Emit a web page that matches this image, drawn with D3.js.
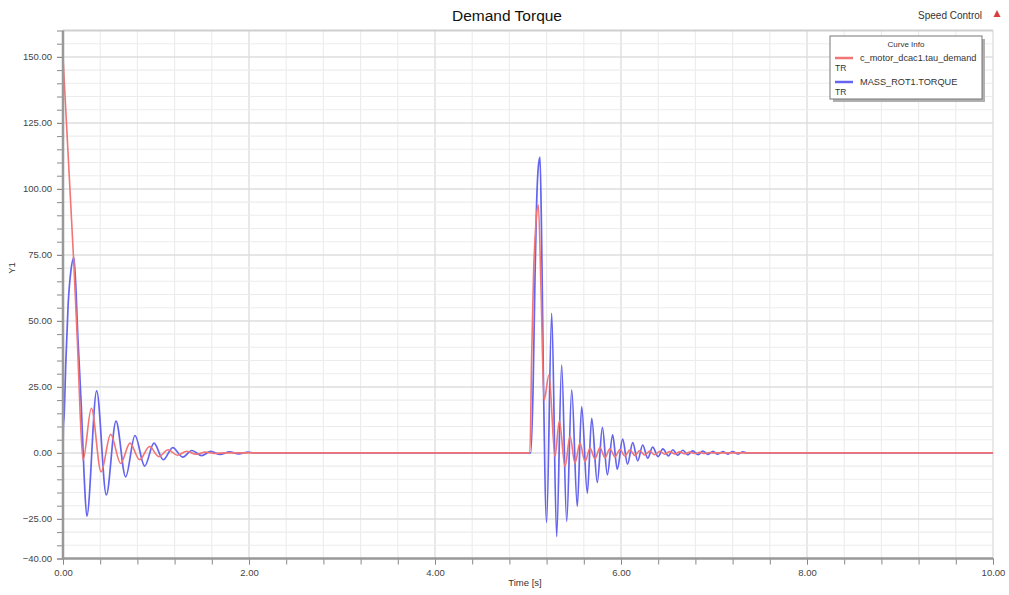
<!DOCTYPE html>
<html><head><meta charset="utf-8">
<script src="https://cdn.jsdelivr.net/npm/d3@7"></script>
<style>
html,body{margin:0;padding:0;background:#fff;}
svg{display:block;font-family:"Liberation Sans",Arial,sans-serif;}
</style></head>
<body><svg id="c" width="1009" height="595"></svg>
<script>
// ---- data ----
const timeTicks = [0, 2, 4, 6, 8, 10];
const valueTicks = [150, 125, 100, 75, 50, 25, 0, -25, -40];
const seriesNames = ["c_motor_dcac1.tau_demand", "MASS_ROT1.TORQUE"];

const redTime = [0, 0.055, 0.11, 0.155, 0.182, 0.215, 0.305, 0.41, 0.512, 0.62, 0.72, 0.824, 0.93, 1.03, 1.13, 1.23, 1.33, 1.43, 1.53, 1.63, 1.75,
  5.02, 5.04, 5.06, 5.085, 5.111, 5.14, 5.172, 5.226, 5.29, 5.337, 5.398, 5.452, 5.505, 5.559, 5.613, 5.667, 5.72, 5.774, 5.828, 5.88, 5.935, 5.99,
  6.04, 6.095, 6.15, 6.2, 6.255, 6.31, 6.36, 6.42, 6.47, 6.52, 6.58, 6.63, 6.68, 6.74, 6.79, 6.85, 6.9, 6.95, 7.0, 10];
const redVal = [150, 113, 76, 42, 17, -2.7, 16.9, -7.2, 7.0, -4.0, 3.7, -2.6, 2.4, -1.4, 1.2, -0.9, 0.6, -0.5, 0.3, -0.2, 0,
  0, 38, 68, 87, 94, 62, 20, 29.5, -1.4, 12.2, -5.2, 6.4, -3.9, 3.7, -3.3, 1.8, -2.2, 2.0, -1.8, 1.6, -1.5, 1.3,
  -1.2, 1.1, -1.0, 0.9, -0.8, 0.7, -0.7, 0.6, -0.5, 0.5, -0.4, 0.4, -0.3, 0.3, -0.25, 0.2, -0.2, 0.15, 0, 0];

const blueTime = [0, 0.004, 0.012, 0.03, 0.055, 0.085, 0.118, 0.161, 0.197, 0.226, 0.256, 0.362, 0.466, 0.57, 0.674, 0.774, 0.878, 0.978, 1.079, 1.18, 1.287, 1.385, 1.49, 1.59, 1.69, 1.79, 1.89, 1.99, 2.05,
  5.03, 5.055, 5.075, 5.09, 5.11, 5.129, 5.145, 5.165, 5.2, 5.255, 5.308, 5.362, 5.416, 5.47, 5.53, 5.577, 5.638, 5.685, 5.745, 5.8, 5.853, 5.91, 5.96, 6.018, 6.07, 6.126, 6.18, 6.233, 6.287, 6.34, 6.4, 6.45,
  6.51, 6.557, 6.61, 6.665, 6.72, 6.77, 6.83, 6.88, 6.935, 6.99, 7.04, 7.095, 7.15, 7.2, 7.26, 7.31, 7.35, 10];
const blueVal = [0, 10, 14, 34, 56, 69, 74, 43, 17.5, -7.7, -24, 23.5, -15.9, 12, -9.1, 6.6, -5.0, 3.7, -2.6, 2.0, -1.6, 0.9, -1.0, 0.6, -0.6, 0.4, -0.4, 0.3, 0,
  0, 25, 66, 91, 108, 112, 85, 30, -26.4, 52.9, -31.7, 33.3, -26, 23.9, -20.3, 17.5, -15.3, 13.1, -11.2, 9.7, -8.3, 6.8, -6.2, 5.2, -4.3, 3.9, -3.0, 3.0, -2.0, 2.2, -1.4, 1.5,
  -1.1, 1.2, -0.9, 1.0, -0.75, 0.8, -0.65, 0.7, -0.55, 0.6, -0.5, 0.5, -0.45, 0.45, -0.4, 0.4, 0, 0];

// ---- chart ----
const svg = d3.select("#c");
const x = d3.scaleLinear().domain([0, 10]).range([63, 993]);
const y = d3.scaleLinear().domain([-40, 160]).range([558.5, 30.5]);

// grid
const g = svg.append("g");
const minorX = d3.range(0, 10.001, 0.4);
const minorY = d3.range(-40, 160.001, 5);
const isMajX = d => Math.abs(d / 2 - Math.round(d / 2)) < 1e-6;
g.selectAll(".vx").data(minorX).join("line")
  .attr("x1", d => x(d)).attr("x2", d => x(d)).attr("y1", y(160)).attr("y2", y(-40))
  .attr("stroke", d => isMajX(d) ? "#dedede" : "#ececec")
  .attr("stroke-width", d => isMajX(d) ? 1.4 : 1.1);
g.selectAll(".hy").data(minorY).join("line")
  .attr("x1", x(0)).attr("x2", x(10)).attr("y1", d => y(d)).attr("y2", d => y(d))
  .attr("stroke", d => d % 25 === 0 ? "#dedede" : "#ececec")
  .attr("stroke-width", d => d % 25 === 0 ? 1.5 : 1.1);

// top border
svg.append("line").attr("x1", x(0)).attr("x2", x(10)).attr("y1", y(160)).attr("y2", y(160))
  .attr("stroke", "#cfcfcf").attr("stroke-width", 2);

// lines
const line = d3.line().x(d => x(d[0])).y(d => y(d[1])).curve(d3.curveMonotoneX);
const blueData = blueTime.map((t, i) => [t, blueVal[i]]);
const redData = redTime.map((t, i) => [t, redVal[i]]);
svg.append("path").datum(blueData).attr("d", line).attr("fill", "none")
  .attr("stroke", "#6464ee").attr("stroke-width", 1.7);
svg.append("path").datum(redData).attr("d", line).attr("fill", "none")
  .attr("stroke", "#f27474").attr("stroke-width", 1.6);

// axes
const axisCol = "#999";
const yAxisMinor = d3.axisLeft(y).tickValues(minorY).tickSize(6).tickFormat("");
const yAx = svg.append("g").attr("transform", `translate(${x(0)},0)`).call(yAxisMinor);
yAx.select(".domain").remove();
yAx.selectAll("line").attr("stroke", "#888");
const yAxisMajor = d3.axisLeft(y).tickValues(valueTicks).tickSize(6).tickPadding(5).tickFormat(d3.format(".2f"));
const yAx2 = svg.append("g").attr("transform", `translate(${x(0)},0)`).call(yAxisMajor);
yAx2.select(".domain").remove();
yAx2.selectAll("line").attr("stroke", "#888");
yAx2.selectAll("text").attr("font-size", 9.5).attr("fill", "#444").attr("font-family", "Liberation Sans, Arial");

const xAxisMinor = d3.axisBottom(x).tickValues(minorX).tickSize(6).tickFormat("");
const xAx = svg.append("g").attr("transform", `translate(0,${y(-40)})`).call(xAxisMinor);
xAx.select(".domain").remove();
xAx.selectAll("line").attr("stroke", "#888");
const xAxisMajor = d3.axisBottom(x).tickValues(timeTicks).tickSize(6).tickPadding(5).tickFormat(d3.format(".2f"));
const xAx2 = svg.append("g").attr("transform", `translate(0,${y(-40)})`).call(xAxisMajor);
xAx2.select(".domain").remove();
xAx2.selectAll("line").attr("stroke", "#888");
xAx2.selectAll("text").attr("font-size", 9.5).attr("fill", "#444").attr("font-family", "Liberation Sans, Arial");

svg.append("line").attr("x1", x(0)).attr("x2", x(0)).attr("y1", y(160)).attr("y2", y(-40) + 1)
  .attr("stroke", axisCol).attr("stroke-width", 2.5);
svg.append("line").attr("x1", x(0)).attr("x2", x(10)).attr("y1", y(-40)).attr("y2", y(-40))
  .attr("stroke", axisCol).attr("stroke-width", 2.5);

// titles
svg.append("text").attr("x", 507).attr("y", 21).attr("text-anchor", "middle")
  .attr("font-size", 15.5).attr("fill", "#111").text("Demand Torque");
svg.append("text").attr("x", 982).attr("y", 19).attr("text-anchor", "end")
  .attr("font-size", 10).attr("fill", "#333").text("Speed Control");
svg.append("path").attr("d", "M997,10 L1000.5,17 L993.5,17 Z").attr("fill", "#d84040");
svg.append("text").attr("x", 525).attr("y", 586).attr("text-anchor", "middle")
  .attr("font-size", 9.5).attr("fill", "#333").text("Time [s]");
svg.append("text").attr("transform", "translate(15,268) rotate(-90)").attr("text-anchor", "middle")
  .attr("font-size", 9.5).attr("fill", "#333").text("Y1");

// legend
const lg = svg.append("g");
lg.append("rect").attr("x", 833).attr("y", 39).attr("width", 152).attr("height", 63).attr("fill", "#b0b0b0");
lg.append("rect").attr("x", 830).attr("y", 36).attr("width", 152).attr("height", 63)
  .attr("fill", "#fff").attr("stroke", "#777").attr("stroke-width", 1);
lg.append("text").attr("x", 906).attr("y", 47).attr("text-anchor", "middle")
  .attr("font-size", 8).attr("fill", "#333").text("Curve Info");
const colors = ["#f27474", "#6464ee"];
seriesNames.forEach((n, i) => {
  const yy = 58 + i * 24;
  lg.append("line").attr("x1", 835).attr("x2", 853).attr("y1", yy).attr("y2", yy)
    .attr("stroke", colors[i]).attr("stroke-width", 2.5);
  lg.append("text").attr("x", 860).attr("y", yy + 3).attr("font-size", 9.2).attr("fill", "#333").text(n);
  lg.append("text").attr("x", 835).attr("y", yy + 13).attr("font-size", 8.5).attr("fill", "#333").text("TR");
});
</script></body></html>
